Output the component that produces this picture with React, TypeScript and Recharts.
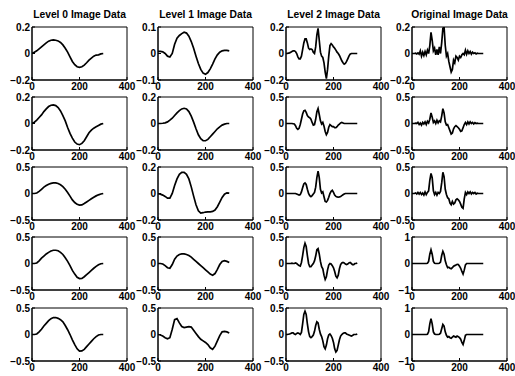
import { LineChart, Line, XAxis, YAxis, ReferenceArea } from "recharts";

// x grids (samples along the signal)
const xCoarse = [
  0, 10, 20, 30, 40, 50, 60, 70, 80, 90, 100, 110, 120, 130, 140, 150,
  160, 170, 180, 190, 200, 210, 220, 230, 240, 250, 260, 270, 280, 290, 300,
];
const xFine = [
  0, 5, 10, 15, 20, 25, 30, 35, 40, 45, 50, 55, 60, 65, 70, 75, 80, 85, 90,
  95, 100, 105, 110, 115, 120, 125, 130, 135, 140, 145, 150, 155, 160, 165,
  170, 175, 180, 185, 190, 195, 200, 205, 210, 215, 220, 225, 230, 235, 240,
  245, 250, 255, 260, 265, 270, 275, 280, 285, 290, 295, 300,
];

const titles = [
  "Level 0 Image Data",
  "Level 1 Image Data",
  "Level 2 Image Data",
  "Original Image Data",
];

// y limits per row, per column
const limits = [
  [0.2, 0.1, 0.2, 0.2],
  [0.2, 0.2, 0.5, 0.5],
  [0.5, 0.2, 0.5, 0.5],
  [0.5, 0.5, 0.5, 1],
  [0.5, 0.5, 0.5, 1],
];

// Level 0
const level0Row1 = [0, 0.01, 0.02, 0.035, 0.05, 0.065, 0.08, 0.093, 0.1, 0.103, 0.1, 0.095, 0.083, 0.065, 0.04, 0.01, -0.025, -0.06, -0.085, -0.1, -0.105, -0.1, -0.088, -0.07, -0.05, -0.035, -0.02, -0.012, -0.01, -0.003, 0];
const level0Row2 = [0, 0.01, 0.025, 0.045, 0.065, 0.09, 0.11, 0.128, 0.138, 0.14, 0.135, 0.12, 0.095, 0.06, 0.02, -0.03, -0.075, -0.11, -0.14, -0.155, -0.16, -0.15, -0.13, -0.1, -0.07, -0.05, -0.035, -0.025, -0.015, -0.005, 0];
const level0Row3 = [0, 0, 0.01, 0.04, 0.08, 0.12, 0.15, 0.175, 0.19, 0.2, 0.2, 0.19, 0.165, 0.13, 0.08, 0.02, -0.05, -0.12, -0.17, -0.205, -0.22, -0.215, -0.19, -0.16, -0.13, -0.1, -0.07, -0.045, -0.025, -0.01, 0];
const level0Row4 = [0, 0, 0.01, 0.05, 0.1, 0.14, 0.18, 0.21, 0.235, 0.25, 0.25, 0.24, 0.21, 0.17, 0.11, 0.04, -0.04, -0.13, -0.2, -0.26, -0.285, -0.28, -0.25, -0.21, -0.17, -0.13, -0.09, -0.055, -0.025, -0.005, 0];
const level0Row5 = [0, 0, 0.01, 0.05, 0.1, 0.16, 0.21, 0.26, 0.3, 0.32, 0.32, 0.305, 0.28, 0.24, 0.17, 0.09, 0, -0.1, -0.19, -0.27, -0.315, -0.31, -0.28, -0.23, -0.18, -0.13, -0.08, -0.04, -0.01, 0, 0];

// Level 1
const level1Row1 = [0.008, 0.008, 0.006, 0, -0.01, -0.013, 0, 0.035, 0.058, 0.068, 0.075, 0.08, 0.077, 0.065, 0.045, 0.02, -0.01, -0.038, -0.06, -0.074, -0.078, -0.072, -0.058, -0.04, -0.02, -0.005, 0.005, 0.01, 0.012, 0.012, 0.01];
const level1Row2 = [0, 0, 0.002, 0.005, 0.012, 0.025, 0.04, 0.06, 0.08, 0.097, 0.11, 0.115, 0.11, 0.09, 0.055, 0.01, -0.04, -0.085, -0.115, -0.13, -0.13, -0.12, -0.1, -0.08, -0.06, -0.04, -0.025, -0.012, -0.005, 0, 0];
const level1Row3 = [0, -0.005, -0.012, -0.022, -0.035, -0.035, 0, 0.06, 0.11, 0.145, 0.16, 0.16, 0.145, 0.11, 0.05, -0.02, -0.085, -0.13, -0.148, -0.145, -0.14, -0.138, -0.138, -0.135, -0.125, -0.1, -0.065, -0.03, -0.005, 0.005, 0.003];
const level1Row4 = [0, 0, -0.01, -0.04, -0.08, -0.09, -0.02, 0.08, 0.14, 0.17, 0.18, 0.18, 0.17, 0.15, 0.12, 0.08, 0.04, 0, -0.04, -0.08, -0.12, -0.16, -0.2, -0.22, -0.19, -0.11, -0.02, 0.04, 0.055, 0.04, 0.02];
const level1Row5 = [0, -0.01, -0.03, -0.06, -0.08, -0.06, 0.1, 0.28, 0.3, 0.22, 0.15, 0.13, 0.14, 0.15, 0.14, 0.08, 0.02, -0.04, -0.09, -0.12, -0.15, -0.19, -0.25, -0.28, -0.22, -0.12, -0.02, 0.05, 0.06, 0.05, 0.03];

// Level 2
const level2Row1 = [
  0, 0, 0.003, 0.005, 0.01, 0.015, 0.02, 0.02, 0.015, 0,
  -0.025, -0.04, -0.04, -0.02, 0.03, 0.08, 0.11, 0.11, 0.08, 0.04,
  0.03, 0.035, 0.03, 0.01, 0, 0.05, 0.14, 0.19, 0.1, 0.01,
  -0.02, -0.03, -0.07, -0.14, -0.19, -0.12, -0.02, 0.06, 0.075, 0.065,
  0.05, 0.04, 0.025, 0.01, 0, -0.015, -0.035, -0.055, -0.07, -0.08,
  -0.075, -0.06, -0.04, -0.02, -0.005, 0, 0, 0, 0, 0,
  0,
];
const level2Row2 = [
  0, 0, 0, 0, 0, 0, -0.005, -0.01, -0.04, -0.09,
  -0.11, -0.09, -0.02, 0.08, 0.18, 0.24, 0.25, 0.21, 0.15, 0.12,
  0.11, 0.08, 0.02, -0.03, -0.02, 0.08, 0.22, 0.28, 0.17, 0.05,
  -0.01, 0.02, -0.05, -0.15, -0.21, -0.17, -0.07, -0.02, -0.04, -0.06,
  -0.06, -0.08, -0.08, -0.06, -0.03, -0.01, 0.01, 0.02, 0.01, 0,
  0, 0, 0, 0, 0, 0, 0, 0, 0, 0,
  0,
];
const level2Row3 = [
  0, 0, 0, 0, 0, 0, 0, 0, 0, -0.01,
  -0.02, -0.03, -0.02, 0.03, 0.11, 0.18, 0.2, 0.17, 0.08, 0,
  -0.04, -0.06, -0.04, -0.01, 0.02, 0.12, 0.3, 0.42, 0.3, 0.08,
  0.01, 0.03, -0.06, -0.15, -0.16, -0.13, -0.07, 0, 0.04, 0.06,
  0.02, -0.03, -0.055, -0.065, -0.07, -0.065, -0.055, -0.04, -0.025, -0.01,
  0, 0, 0, 0, 0, 0, 0, 0, 0, 0,
  0,
];
const level2Row4 = [
  0, 0, 0, 0, 0, 0.005, 0, 0, 0.01, 0,
  -0.02, -0.04, -0.05, 0.02, 0.15, 0.3, 0.38, 0.32, 0.15, 0,
  -0.06, -0.06, -0.03, 0, 0.05, 0.14, 0.26, 0.28, 0.18, 0.04,
  -0.06, -0.1, -0.22, -0.3, -0.25, -0.12, -0.03, 0, -0.01, -0.04,
  -0.08, -0.15, -0.24, -0.27, -0.22, -0.1, -0.02, 0.01, 0.02, 0.01,
  -0.01, -0.02, -0.01, 0.01, 0.02, 0, -0.02, -0.02, 0, 0,
  0.01,
];
const level2Row5 = [
  0, 0, 0.005, 0.01, 0.02, 0.03, 0.03, 0.01, 0, 0.02,
  0.03, 0.02, 0, 0.04, 0.2, 0.38, 0.44, 0.38, 0.2, 0.05,
  -0.04, -0.06, -0.04, -0.01, 0.06, 0.17, 0.24, 0.22, 0.1, 0.01,
  -0.04, -0.12, -0.23, -0.27, -0.2, -0.08, -0.01, 0.01, -0.02, -0.07,
  -0.15, -0.27, -0.33, -0.3, -0.2, -0.1, -0.03, 0, 0.02, 0.03,
  0.03, 0.01, 0, -0.01, -0.02, -0.03, -0.02, 0, 0, 0,
  0.01,
];

// Original
const origRow1 = [
  0, 0, 0, 0.002, -0.003, 0.005, -0.005, 0.02, -0.02, 0.01,
  -0.015, 0.015, -0.01, 0.025, 0, 0.06, 0.16, 0.1, 0.02, 0.04,
  -0.01, 0.03, -0.01, 0.05, 0, 0.08, 0.19, 0.2, 0.06, -0.02,
  0, -0.06, -0.1, -0.14, -0.12, -0.05, -0.07, -0.02, -0.03, -0.05,
  -0.02, -0.03, -0.01, 0, -0.01, 0.025, -0.005, 0.02, 0, 0.015,
  -0.005, 0.01, 0, 0.005, -0.003, 0.002, 0, 0, 0, 0,
  0,
];
const origRow2 = [
  0, 0, 0, 0.005, 0, 0.02, -0.02, 0.01, -0.03, 0.02,
  -0.01, 0.03, -0.02, 0.04, 0.01, 0.08, 0.2, 0.12, 0.02, 0.05,
  0, 0.06, 0.01, 0.05, 0.03, 0.14, 0.28, 0.2, 0.03, -0.03,
  -0.02, -0.08, -0.14, -0.2, -0.18, -0.1, -0.06, -0.04, -0.06, -0.08,
  -0.11, -0.15, -0.14, -0.08, -0.02, 0.02, -0.02, 0.03, -0.01, 0.03,
  0, 0.02, -0.01, 0.015, 0, 0.005, 0, 0, 0, 0,
  0,
];
const origRow3 = [
  0, 0, 0, 0.01, -0.01, 0.02, -0.01, 0.02, -0.02, 0.01,
  -0.03, 0.03, -0.02, 0.02, 0.05, 0.25, 0.38, 0.3, 0.05, -0.02,
  0.02, -0.03, 0.02, 0, 0.04, 0.2, 0.4, 0.32, 0.08, -0.02,
  -0.08, -0.1, -0.18, -0.21, -0.15, -0.2, -0.18, -0.12, -0.1, -0.12,
  -0.15, -0.2, -0.26, -0.28, -0.1, 0.02, -0.02, 0.03, 0, 0.03,
  -0.01, 0.02, 0, 0.02, -0.01, 0.005, 0, 0, 0, 0,
  0,
];
const origRow4 = [
  0, 0, 0, 0, 0, 0, 0, 0, 0, 0,
  0, 0, 0, 0.01, 0.08, 0.35, 0.52, 0.35, 0.08, 0.01,
  0, 0, 0, 0.01, 0.05, 0.3, 0.46, 0.35, 0.1, -0.05,
  -0.16, -0.14, -0.18, -0.2, -0.16, -0.1, -0.08, -0.06, -0.03, -0.04,
  -0.1, -0.18, -0.3, -0.4, -0.25, -0.05, 0, 0, 0, 0,
  0, 0, 0, 0, 0, 0, 0, 0, 0, 0,
  0,
];
const origRow5 = [
  0, 0, 0, 0, 0, 0, 0, 0, 0, 0,
  0, 0, 0, 0.01, 0.1, 0.4, 0.6, 0.4, 0.1, 0.02,
  0, 0, 0, 0.01, 0.05, 0.22, 0.38, 0.32, 0.1, -0.03,
  -0.1, -0.08, -0.12, -0.14, -0.1, -0.06, -0.08, -0.1, -0.06, -0.08,
  -0.12, -0.18, -0.3, -0.38, -0.22, -0.03, 0, 0, 0, 0,
  0, 0, 0, 0, 0, 0, 0, 0, 0, 0,
  0,
];

const series = [
  [level0Row1, level1Row1, level2Row1, origRow1],
  [level0Row2, level1Row2, level2Row2, origRow2],
  [level0Row3, level1Row3, level2Row3, origRow3],
  [level0Row4, level1Row4, level2Row4, origRow4],
  [level0Row5, level1Row5, level2Row5, origRow5],
];

const FONT = "'Liberation Sans', Arial, Helvetica, sans-serif";
const PLOT_W = 95;
const PLOT_H = 53;
const colLefts = [32, 158, 286, 412];
const rowTops = [27, 97, 167, 237, 308];
const ML = 30;
const MT = 8;
const MR = 12;
const MB = 16;

const fmt = (v: number) => (v < 0 ? "\u2212" + Math.abs(v) : String(v));

const tickStyle = { fill: "#000", fontSize: 10, fontWeight: 700, fontFamily: FONT };

function Panel({ ys, lim, left, top }: { ys: number[]; lim: number; left: number; top: number }) {
  const xs = ys.length > 31 ? xFine : xCoarse;
  const data = ys.map((y, i) => ({ x: xs[i], y }));
  const line = { stroke: "#000", strokeWidth: 1 };
  return (
    <div style={{ position: "absolute", left: left - ML, top: top - MT }}>
      <LineChart
        width={ML + PLOT_W + MR}
        height={MT + PLOT_H + MB}
        data={data}
        margin={{ top: MT, right: MR, bottom: 0, left: 0 }}
        style={{ overflow: "visible" }}
      >
        <XAxis
          dataKey="x"
          type="number"
          domain={[0, 400]}
          ticks={[0, 200, 400]}
          interval={0}
          height={MB}
          tick={tickStyle}
          tickSize={-3}
          tickMargin={6}
          axisLine={line}
          tickLine={line}
          allowDataOverflow
        />
        <YAxis
          type="number"
          domain={[-lim, lim]}
          ticks={[-lim, 0, lim]}
          interval={0}
          width={ML}
          tick={tickStyle}
          tickFormatter={fmt}
          tickSize={-3}
          tickMargin={5}
          axisLine={line}
          tickLine={line}
          allowDataOverflow
        />
        <ReferenceArea
          x1={0}
          x2={400}
          y1={-lim}
          y2={lim}
          fill="none"
          fillOpacity={0}
          stroke="#000"
          strokeWidth={1}
          ifOverflow="visible"
        />
        <Line
          type="linear"
          dataKey="y"
          stroke="#000"
          strokeWidth={1.7}
          dot={false}
          isAnimationActive={false}
        />
      </LineChart>
    </div>
  );
}

export default function App() {
  return (
    <div
      style={{
        position: "absolute",
        left: 0,
        top: 0,
        width: 515,
        height: 376,
        background: "#fff",
        overflow: "hidden",
      }}
    >
      {series.map((row, r) =>
        row.map((ys, c) => (
          <Panel key={`${r}-${c}`} ys={ys} lim={limits[r][c]} left={colLefts[c]} top={rowTops[r]} />
        ))
      )}
      <svg width={515} height={376} style={{ position: "absolute", left: 0, top: 0, pointerEvents: "none" }}>
        {titles.map((t, c) => (
          <text
            key={t}
            x={colLefts[c] + PLOT_W / 2}
            y={18}
            textAnchor="middle"
            fontSize={10.3}
            fontWeight={700}
            fontFamily={FONT}
            fill="#000"
          >
            {t}
          </text>
        ))}
      </svg>
    </div>
  );
}
